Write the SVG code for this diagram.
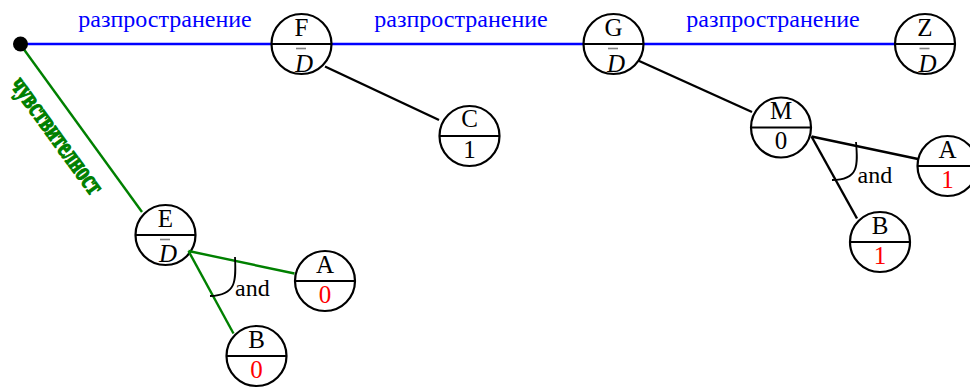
<svg xmlns="http://www.w3.org/2000/svg" width="970" height="390" viewBox="0 0 970 390">
<style>
.n{fill:#fff;stroke:#000;stroke-width:2.2}
.dv{stroke:#000;stroke-width:2.2}
.ob{stroke:#808080;stroke-width:1.6}
.t{font-family:'Liberation Serif','Times New Roman',serif;font-size:25px;text-anchor:middle;fill:#000}
.i{font-style:italic}
.r{fill:#f00}
.lbl{font-family:'Liberation Serif','Times New Roman',serif;font-size:24px;text-anchor:middle;fill:#00f}
.and{font-family:'Liberation Serif','Times New Roman',serif;font-size:24px;fill:#000}
.bl{stroke:#00f;stroke-width:2.6;fill:none}
.gr{stroke:#008000;stroke-width:2.4;fill:none}
.bk{stroke:#000;stroke-width:2.4;fill:none}
.arc{stroke:#000;stroke-width:1.8;fill:none}
</style>
<g id="connectors">
<line class="bl" x1="20" y1="44" x2="900" y2="44"/>
<line class="gr" x1="20" y1="44" x2="142" y2="212"/>
<line class="bk" x1="325" y1="66.5" x2="439" y2="120"/>
<line class="bk" x1="637" y1="60" x2="752" y2="112"/>
</g>
<g id="labels">
<text class="lbl" x="165" y="27">разпространение</text>
<text class="lbl" x="461" y="27">разпространение</text>
<text class="lbl" x="773" y="27">разпространение</text>
<text transform="translate(55,137) rotate(54)" y="6" font-family="'Liberation Serif','Times New Roman',serif" font-size="28" font-weight="bold" fill="#008000" stroke="#008000" stroke-width="1.3" text-anchor="middle" textLength="138" lengthAdjust="spacingAndGlyphs">чувствителност</text>
</g>
<g id="start"><circle cx="20.5" cy="44" r="7.5" fill="#000"/></g>
<g id="F">
<circle class="n" cx="301.5" cy="44" r="30"/><line class="dv" x1="271.5" y1="44" x2="331.5" y2="44"/>
<text class="t" x="301.5" y="35.5">F</text>
<line class="ob" x1="296" y1="48.5" x2="306" y2="48.5"/><text class="t i" x="304" y="72">D</text>
</g>
<g id="G">
<circle class="n" cx="613.5" cy="44" r="30"/><line class="dv" x1="583.5" y1="44" x2="643.5" y2="44"/>
<text class="t" x="613.5" y="35.5">G</text>
<line class="ob" x1="608" y1="48.5" x2="618" y2="48.5"/><text class="t i" x="616" y="72">D</text>
</g>
<g id="Z">
<circle class="n" cx="925" cy="44" r="30"/><line class="dv" x1="895" y1="44" x2="955" y2="44"/>
<text class="t" x="925" y="35.5">Z</text>
<line class="ob" x1="919.5" y1="48.5" x2="929.5" y2="48.5"/><text class="t i" x="927.5" y="72">D</text>
</g>
<g id="C">
<circle class="n" cx="469.5" cy="136" r="30"/><line class="dv" x1="439.5" y1="136" x2="499.5" y2="136"/>
<text class="t" x="469.5" y="127">C</text><text class="t" x="469.5" y="157.5">1</text>
</g>
<g id="M">
<circle class="n" cx="781" cy="127.5" r="30"/><line class="dv" x1="751" y1="127.5" x2="811" y2="127.5"/>
<text class="t" x="781" y="119">M</text><text class="t" x="781" y="149">0</text>
</g>
<g id="A2">
<circle class="n" cx="947.5" cy="166" r="30"/><line class="dv" x1="917.5" y1="166" x2="977.5" y2="166"/>
<text class="t" x="947.5" y="157.5">A</text><text class="t r" x="947.5" y="187.5">1</text>
</g>
<g id="B2">
<circle class="n" cx="880" cy="242" r="30"/><line class="dv" x1="850" y1="242" x2="910" y2="242"/>
<text class="t" x="880" y="233.5">B</text><text class="t r" x="880" y="263.5">1</text>
</g>
<g id="E">
<circle class="n" cx="165.5" cy="235" r="30"/><line class="dv" x1="135.5" y1="235" x2="195.5" y2="235"/>
<text class="t" x="165.5" y="226.5">E</text>
<line class="ob" x1="160" y1="239.5" x2="170" y2="239.5"/><text class="t i" x="168" y="261.5">D</text>
</g>
<g id="A1">
<circle class="n" cx="325" cy="281" r="30"/><line class="dv" x1="295" y1="281" x2="355" y2="281"/>
<text class="t" x="325" y="272.5">A</text><text class="t r" x="325" y="302.5">0</text>
</g>
<g id="B1">
<circle class="n" cx="256.5" cy="356" r="30"/><line class="dv" x1="226.5" y1="356" x2="286.5" y2="356"/>
<text class="t" x="256.5" y="347.5">B</text><text class="t r" x="256.5" y="377.5">0</text>
</g>
<g id="and-edges">
<line class="bk" x1="811.5" y1="136.5" x2="918" y2="159"/>
<line class="bk" x1="811.5" y1="136.5" x2="857" y2="218.5"/>
<path class="arc" d="M856,142 C858,165 859,180 832,180"/>
<text class="and" x="857.5" y="182.5">and</text>
<line class="gr" x1="188.5" y1="251" x2="294.5" y2="273.5"/>
<line class="gr" x1="188.5" y1="251" x2="233.5" y2="333.5"/>
<path class="arc" d="M235,257 C236,280 237,295 210,296"/>
<text class="and" x="235" y="295.5">and</text>
</g>
</svg>
